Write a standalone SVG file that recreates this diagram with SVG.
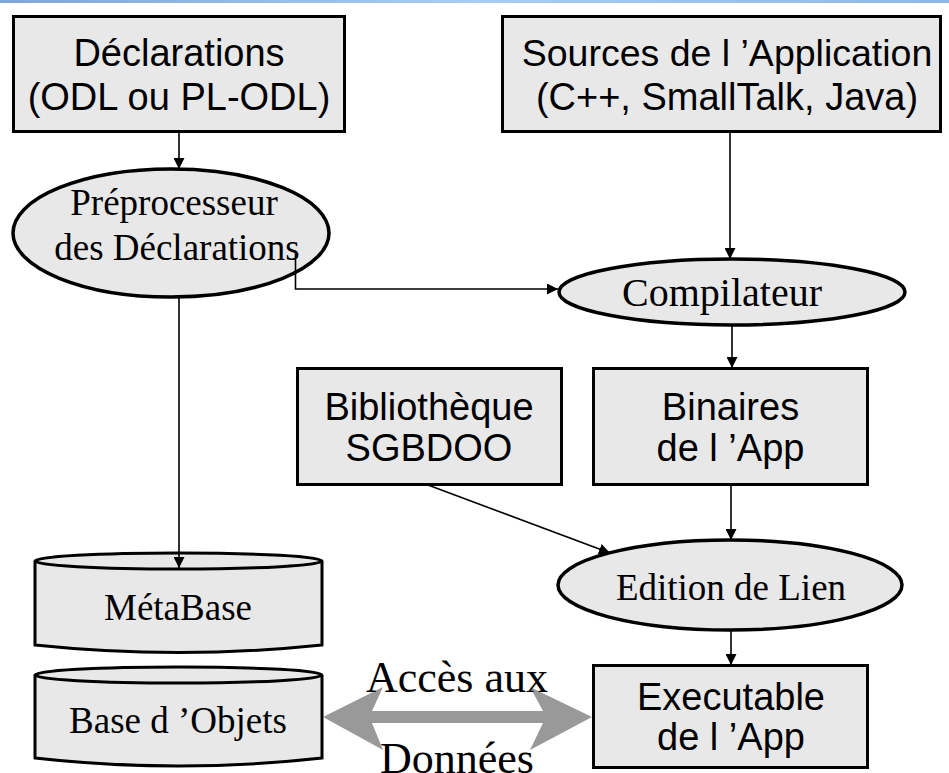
<svg xmlns="http://www.w3.org/2000/svg" width="949" height="773" viewBox="0 0 949 773">
  <defs>
    <linearGradient id="topbar" x1="0" y1="0" x2="1" y2="0">
      <stop offset="0" stop-color="#7fa6d8"/>
      <stop offset="0.5" stop-color="#a9cdf0"/>
      <stop offset="1" stop-color="#8fb8e6"/>
    </linearGradient>
    <marker id="arrow" viewBox="0 0 10 10" refX="10" refY="5" markerWidth="11" markerHeight="11" markerUnits="userSpaceOnUse" orient="auto">
      <path d="M0,0 L10,5 L0,10 z" fill="#000"/>
    </marker>
  </defs>
  <style>
    .box { fill: #e8e8e8; stroke: #000; stroke-width: 3; }
    .oval { fill: #e8e8e8; stroke: #000; stroke-width: 3.5; }
    .sans { font-family: "Liberation Sans", Arial, sans-serif; font-size: 38px; fill: #000; text-anchor: middle; }
    .serif { font-family: "Liberation Serif", "Times New Roman", serif; font-size: 37px; fill: #000; text-anchor: middle; }
    .conn { fill: none; stroke: #000; stroke-width: 1.6; marker-end: url(#arrow); }
  </style>

  <!-- thin banner along the top edge -->
  <rect x="0" y="0" width="949" height="3" fill="url(#topbar)"/>

  <g id="declarations">
    <rect class="box" x="13.5" y="16.5" width="331" height="115"/>
    <text class="sans" x="179" y="66">Déclarations</text>
    <text class="sans" x="179" y="110">(ODL ou PL-ODL)</text>
  </g>

  <g id="sources">
    <rect class="box" x="502.5" y="16.5" width="438" height="115"/>
    <text class="sans" x="727" y="66" style="font-size:37.5px">Sources de l ’Application</text>
    <text class="sans" x="727" y="110">(C++, SmallTalk, Java)</text>
  </g>

  <g id="preprocesseur">
    <ellipse class="oval" cx="171" cy="233" rx="158" ry="64"/>
    <text class="serif" x="174" y="215">Préprocesseur</text>
    <text class="serif" x="177" y="260">des Déclarations</text>
  </g>

  <g id="compilateur">
    <ellipse class="oval" cx="732" cy="292" rx="173" ry="33"/>
    <text class="serif" x="722" y="306" style="font-size:40px">Compilateur</text>
  </g>

  <g id="bibliotheque">
    <rect class="box" x="297.5" y="368.5" width="264" height="116"/>
    <text class="sans" x="429" y="420">Bibliothèque</text>
    <text class="sans" x="429" y="461">SGBDOO</text>
  </g>

  <g id="binaires">
    <rect class="box" x="593.5" y="368.5" width="274" height="116"/>
    <text class="sans" x="730.5" y="420">Binaires</text>
    <text class="sans" x="730.5" y="461">de l ’App</text>
  </g>

  <g id="edition">
    <ellipse class="oval" cx="730" cy="585" rx="172" ry="45"/>
    <text class="serif" x="731" y="600">Edition de Lien</text>
  </g>

  <g id="executable">
    <rect class="box" x="593.5" y="665.5" width="274" height="102"/>
    <text class="sans" x="731" y="710">Executable</text>
    <text class="sans" x="731" y="750">de l ’App</text>
  </g>

  <g id="metabase">
    <path class="box" d="M35,561 L35,645 Q178,660 322,645 L322,561"/>
    <ellipse class="box" cx="178.5" cy="561" rx="143.5" ry="8"/>
    <text class="serif" x="178" y="620">MétaBase</text>
  </g>

  <g id="base-objets">
    <path class="box" d="M35,675 L35,758 Q178,774 322,758 L322,675"/>
    <ellipse class="box" cx="178.5" cy="675" rx="143.5" ry="8"/>
    <text class="serif" x="178" y="733">Base d ’Objets</text>
  </g>

  <g id="connectors">
    <line class="conn" x1="179" y1="132" x2="179" y2="169"/>
    <line class="conn" x1="730" y1="132" x2="730" y2="259"/>
    <polyline class="conn" points="295.5,254 295.5,289 558,289"/>
    <line class="conn" x1="179" y1="297" x2="179" y2="568"/>
    <line class="conn" x1="732" y1="325" x2="732" y2="368"/>
    <line class="conn" x1="731" y1="485" x2="731" y2="540"/>
    <line class="conn" x1="428" y1="485" x2="610" y2="553"/>
    <line class="conn" x1="731" y1="630" x2="731" y2="665"/>
  </g>

  <!-- grey two-way data access arrow with its caption -->
  <g id="acces-donnees">
    <polygon fill="#999" points="323,717 383,687 372,711 543,711 530,687 592,717 530,750 543,723 372,723 383,750"/>
    <text class="serif" x="457" y="692" style="font-size:44px">Accès aux</text>
    <text class="serif" x="457" y="773" style="font-size:44px">Données</text>
  </g>
</svg>
